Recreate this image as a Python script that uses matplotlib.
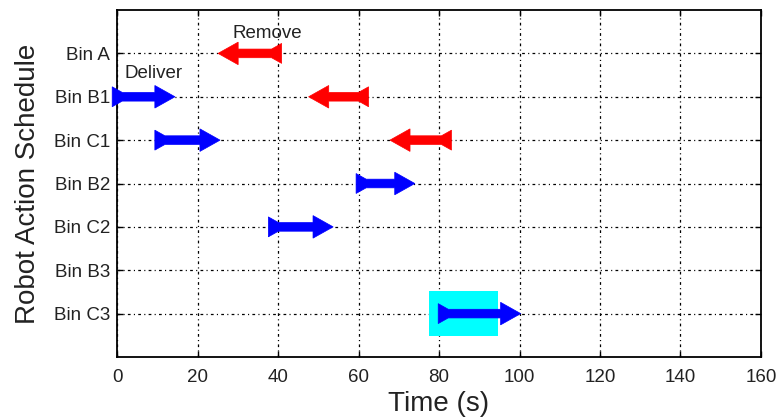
import matplotlib
matplotlib.use("Agg")
import matplotlib.pyplot as plt
from matplotlib.patches import Polygon, Rectangle

plt.rcParams['font.family'] = ['Liberation Sans', 'DejaVu Sans']

# Data
bins = ["Bin A", "Bin B1", "Bin C1", "Bin B2", "Bin C2", "Bin B3", "Bin C3"]
deliver_bins = ["Bin B1", "Bin C1", "Bin B2", "Bin C2", "Bin C3"]
deliver_start = [-1.2, 9.4, 59.4, 37.6, 79.8]
deliver_end = [14.4, 25.6, 74.0, 53.7, 100.3]
remove_bins = ["Bin A", "Bin B1", "Bin C1"]
remove_start = [40.9, 62.5, 83.1]
remove_end = [25.1, 47.6, 67.8]
highlight_bin = "Bin C3"
highlight_start = 77.4
highlight_end = 94.7
x_ticks = [0, 20, 40, 60, 80, 100, 120, 140, 160]

fig = plt.figure(figsize=(7.77, 4.18), dpi=100)
ax = fig.add_axes([0.1506, 0.146, 0.8288, 0.830])

ypos = {b: i + 1 for i, b in enumerate(bins)}


def arrow_poly(x0, x1, y, hl=5.0, hw=0.26, sw=0.10, tl=2.5, tw=0.23):
    d = 1 if x1 > x0 else -1
    pts = [
        (x0, y - tw), (x0 + d * tl, y - sw), (x1 - d * hl, y - sw),
        (x1 - d * hl, y - hw), (x1, y), (x1 - d * hl, y + hw),
        (x1 - d * hl, y + sw), (x0 + d * tl, y + sw), (x0, y + tw),
    ]
    return pts


# highlight
hy = ypos[highlight_bin]
ax.add_patch(Rectangle((highlight_start, hy - 0.52), highlight_end - highlight_start,
                       1.04, facecolor='#00ffff', edgecolor='none', zorder=2))

for b, s, e in zip(deliver_bins, deliver_start, deliver_end):
    ax.add_patch(Polygon(arrow_poly(s, e, ypos[b]), closed=True, facecolor='#0000ff',
                         edgecolor='#0000ff', linewidth=0.5, zorder=3, clip_on=False))
for b, s, e in zip(remove_bins, remove_start, remove_end):
    ax.add_patch(Polygon(arrow_poly(s, e, ypos[b]), closed=True, facecolor='#ff0000',
                         edgecolor='#ff0000', linewidth=0.5, zorder=3, clip_on=False))

ax.text(37.3, ypos["Bin A"] - 0.45, "Remove", fontsize=13.5, color='#222222',
        ha='center', va='center', zorder=4)
ax.text(9.2, ypos["Bin B1"] - 0.53, "Deliver", fontsize=13.5, color='#222222',
        ha='center', va='center', zorder=4)

ax.set_xlim(0, 160)
ax.set_ylim(8, 0)
ax.set_xticks(x_ticks)
ax.set_xticklabels([str(t) for t in x_ticks])
ax.set_yticks([ypos[b] for b in bins])
ax.set_yticklabels(bins)

ax.grid(True, color='black', linewidth=0.9, linestyle=(0, (2.2, 2.6, 0.9, 2.6)))
ax.set_axisbelow(True)
ax.tick_params(direction='in', length=4, width=1.0, top=True, right=True,
               labelsize=13.5, labelcolor='#222222')
ax.tick_params(axis='x', pad=9)
ax.tick_params(axis='y', pad=5)
for sp in ax.spines.values():
    sp.set_linewidth(1.3)

ax.set_xlabel("Time (s)", fontsize=20, color='#222222', labelpad=3)
ax.set_ylabel("Robot Action Schedule", fontsize=20, color='#222222', labelpad=9)

fig.savefig("out.png", dpi=100)
